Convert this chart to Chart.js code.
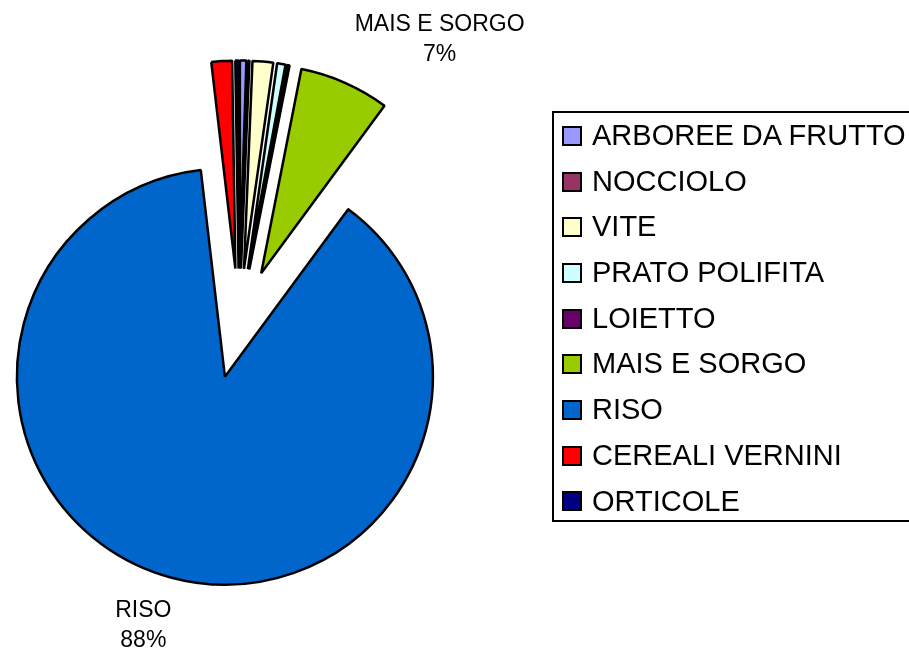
<!DOCTYPE html>
<html>
<head>
<meta charset="utf-8">
<script src="https://cdn.jsdelivr.net/npm/chart.js@4.4.0/dist/chart.umd.min.js"></script>
<style>
  html, body { margin: 0; padding: 0; background: #fff; overflow: hidden; }
  #wrap { position: relative; width: 909px; height: 653px; overflow: hidden; }
  #legend {
    position: absolute; left: 552px; top: 111px; width: 420px; height: 411px;
    border: 2px solid #000; box-sizing: border-box;
    font-family: "Liberation Sans", Arial, sans-serif; font-size: 29px; color: #000;
  }
  .row { height: 45.7px; line-height: 45.7px; display: flex; align-items: center; white-space: nowrap; }
  .sw { width: 20px; height: 20px; box-sizing: border-box; border: 2px solid #000; margin-left: 8px; margin-right: 10px; flex: none; }
</style>
</head>
<body>
<div id="wrap">
  <canvas id="pie" width="909" height="653"></canvas>
  <div id="legend"></div>
</div>
<script>
const categories = ["ARBOREE DA FRUTTO", "NOCCIOLO", "VITE", "PRATO POLIFITA", "LOIETTO", "MAIS E SORGO", "RISO", "CEREALI VERNINI", "ORTICOLE"];
const shares = [0.5, 0.15, 1.6, 0.65, 0.2, 7.0, 88.05, 1.6, 0.25]; // % of area
const colors = ["#9999FF", "#993366", "#FFFFCC", "#CCFFFF", "#660066", "#99CC00", "#0066CC", "#FF0000", "#000080"];
const labeledSlices = ["MAIS E SORGO", "RISO"];

const explodeDistance = 55;
const labelGap = 24;
const labelLineHeight = 30;

// every slice pulled out from the common centre (excel style exploded pie)
const explodePlugin = {
  id: "explode",
  beforeDatasetsDraw(chart) {
    const area = chart.chartArea;
    const cx = (area.left + area.right) / 2;
    const cy = (area.top + area.bottom) / 2;
    chart.getDatasetMeta(0).data.forEach(arc => {
      const mid = (arc.startAngle + arc.endAngle) / 2;
      arc.x = cx + Math.cos(mid) * explodeDistance;
      arc.y = cy + Math.sin(mid) * explodeDistance;
    });
  }
};

const labelPlugin = {
  id: "sliceLabels",
  afterDatasetsDraw(chart) {
    const ctx = chart.ctx;
    const meta = chart.getDatasetMeta(0);
    const total = shares.reduce((a, b) => a + b, 0);
    ctx.save();
    ctx.font = '23px "Liberation Sans", Arial, sans-serif';
    ctx.fillStyle = "#000";
    ctx.textAlign = "center";
    ctx.textBaseline = "alphabetic";
    const capH = 16.5;
    meta.data.forEach((arc, i) => {
      if (!labeledSlices.includes(categories[i])) return;
      const mid = (arc.startAngle + arc.endAngle) / 2;
      const dist = arc.outerRadius + labelGap;
      const ax = arc.x + Math.cos(mid) * dist;
      const ay = arc.y + Math.sin(mid) * dist;
      const lines = [categories[i], Math.round(shares[i] / total * 100) + "%"];
      const w = Math.max(...lines.map(l => ctx.measureText(l).width));
      const h = capH + labelLineHeight * (lines.length - 1);
      // text block sits just outside the slice, on the side it points to
      const left = Math.cos(mid) >= 0 ? ax : ax - w + 6;
      const top = Math.sin(mid) < 0 ? ay - h : ay;
      lines.forEach((l, k) => {
        ctx.fillText(l, left + w / 2, top + capH + k * labelLineHeight);
      });
    });
    ctx.restore();
  }
};

new Chart(document.getElementById("pie"), {
  type: "pie",
  data: {
    labels: categories,
    datasets: [{
      data: shares,
      backgroundColor: colors,
      borderColor: "#000",
      borderWidth: 2.5
    }]
  },
  options: {
    responsive: false,
    animation: false,
    events: [],
    radius: 208,
    layout: { padding: { left: 0, right: 431, top: 0, bottom: 6 } },
    plugins: {
      legend: { display: false },
      tooltip: { enabled: false }
    }
  },
  plugins: [explodePlugin, labelPlugin]
});

// legend box on the right
const legend = document.getElementById("legend");
categories.forEach((name, i) => {
  const row = document.createElement("div");
  row.className = "row";
  const sw = document.createElement("span");
  sw.className = "sw";
  sw.style.background = colors[i];
  const txt = document.createElement("span");
  txt.textContent = name;
  row.appendChild(sw);
  row.appendChild(txt);
  legend.appendChild(row);
});
</script>
</body>
</html>
